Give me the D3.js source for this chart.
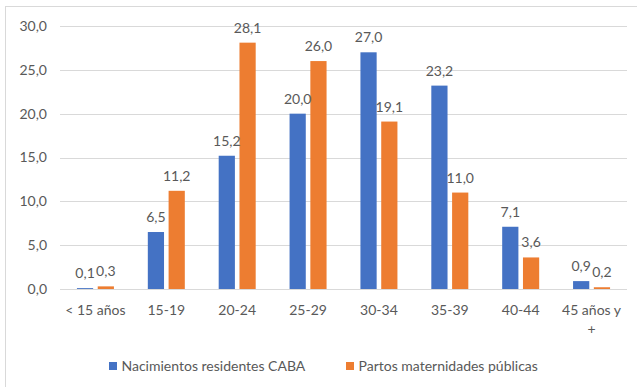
<!DOCTYPE html>
<html>
<head>
<meta charset="utf-8">
<script src="https://cdn.jsdelivr.net/npm/d3@7/dist/d3.min.js"></script>
<style>
  html, body { margin: 0; padding: 0; background: #fff; }
  svg { display: block; font-family: Lato, "Open Sans", sans-serif; }
</style>
</head>
<body>
<svg id="chart" width="637" height="387"></svg>
<script>
// Age groups (each entry is the list of lines in its axis label)
const categories = ["< 15 años", "15-19", "20-24", "25-29", "30-34", "35-39", "40-44", "45 años y +"];
const categoryLines = [["< 15 años"], ["15-19"], ["20-24"], ["25-29"], ["30-34"], ["35-39"], ["40-44"], ["45 años y", "+"]];
const seriesNames = ["Nacimientos residentes CABA", "Partos maternidades públicas"];
const nacimientos = [0.1, 6.5, 15.2, 20.0, 27.0, 23.2, 7.1, 0.9];
const partos = [0.3, 11.2, 28.1, 26.0, 19.1, 11.0, 3.6, 0.2];
const yTicks = [0, 5, 10, 15, 20, 25, 30];
const colors = ["#4472C4", "#ED7D31"];

const seriesValues = [nacimientos, partos];
const fmt = v => v.toFixed(1).replace(".", ",");
const textColor = "#595959";
const fontSize = "14px";

const svg = d3.select("#chart");

// chart area frame
svg.append("rect")
  .attr("x", 5.5).attr("y", 6.5)
  .attr("width", 640).attr("height", 390)
  .attr("fill", "none").attr("stroke", "#d9d9d9").attr("stroke-width", 1);

const plot = { left: 60, right: 627, top: 26, bottom: 289 };

const y = d3.scaleLinear().domain([0, 30]).range([plot.bottom, plot.top]);
const x0 = d3.scaleBand().domain(categories).range([plot.left, plot.right]).paddingInner(0).paddingOuter(0);
const groupWidth = 37;
const x1 = d3.scaleBand().domain(seriesNames).range([0, groupWidth]).paddingInner(0.22);

// gridlines
svg.append("g").selectAll("line").data(yTicks).join("line")
  .attr("x1", plot.left).attr("x2", plot.right)
  .attr("y1", d => Math.round(y(d)) + 0.5).attr("y2", d => Math.round(y(d)) + 0.5)
  .attr("stroke", "#d9d9d9").attr("stroke-width", 1);

// y axis labels
const yAxis = d3.axisLeft(y).tickValues(yTicks).tickFormat(fmt).tickSize(0).tickPadding(0);
const yg = svg.append("g").attr("transform", `translate(47,0)`).call(yAxis);
yg.select(".domain").remove();
yg.selectAll("text")
  .attr("fill", textColor).attr("font-size", fontSize)
  .attr("font-family", "Lato, 'Open Sans', sans-serif");

// bars
const groups = svg.append("g").selectAll("g").data(categories).join("g")
  .attr("transform", d => `translate(${x0(d) + x0.bandwidth() / 2 - groupWidth / 2},0)`);

groups.selectAll("rect")
  .data((d, i) => seriesNames.map((s, k) => ({ s, k, v: seriesValues[k][i] })))
  .join("rect")
  .attr("x", d => x1(d.s))
  .attr("width", x1.bandwidth())
  .attr("y", d => y(d.v))
  .attr("height", d => y(0) - y(d.v))
  .attr("fill", d => colors[d.k]);

// value labels
groups.selectAll("text")
  .data((d, i) => seriesNames.map((s, k) => ({ s, k, v: seriesValues[k][i] })))
  .join("text")
  .attr("x", d => x1(d.s) + x1.bandwidth() / 2)
  .attr("y", d => y(d.v) - 10)
  .attr("text-anchor", "middle")
  .attr("font-size", fontSize)
  .attr("fill", textColor)
  .text(d => fmt(d.v));

// x axis category labels
const xg = svg.append("g");
categories.forEach((c, i) => {
  const t = xg.append("text")
    .attr("x", x0(c) + x0.bandwidth() / 2)
    .attr("y", 315)
    .attr("text-anchor", "middle")
    .attr("font-size", fontSize)
    .attr("fill", textColor);
  categoryLines[i].forEach((line, j) => {
    t.append("tspan")
      .attr("x", x0(c) + x0.bandwidth() / 2)
      .attr("dy", j === 0 ? 0 : 19)
      .text(line);
  });
});

// legend
const legendX = [109, 346];
const legend = svg.append("g").selectAll("g").data(seriesNames).join("g")
  .attr("transform", (d, i) => `translate(${legendX[i]},362)`);
legend.append("rect").attr("width", 8).attr("height", 8).attr("fill", (d, i) => colors[i]);
legend.append("text")
  .attr("x", 12.5).attr("y", 9)
  .attr("font-size", fontSize).attr("fill", textColor)
  .text(d => d);
</script>
</body>
</html>
